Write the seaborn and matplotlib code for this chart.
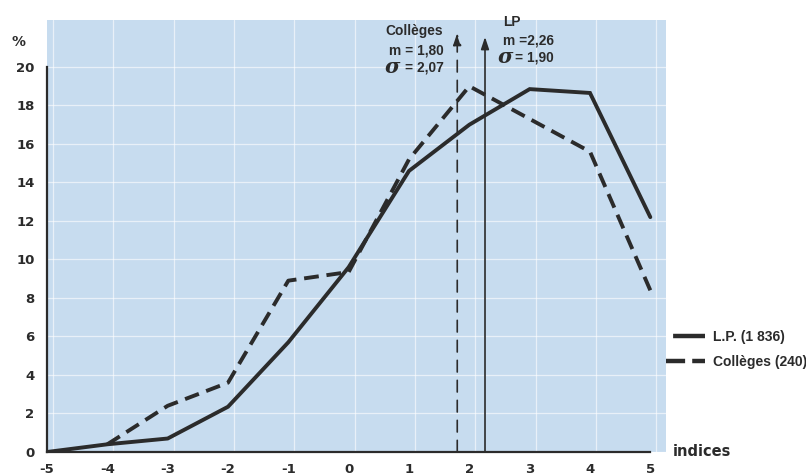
import numpy as np
import pandas as pd
import matplotlib
matplotlib.use("Agg")
import matplotlib.pyplot as plt
import seaborn as sns
from matplotlib.lines import Line2D

# ---- data ----
indices = [-5, -4, -3, -2, -1, 0, 1, 2, 3, 4, 5]
lp_values = [0.0, 0.4, 0.7, 2.35, 5.7, 9.6, 14.6, 17.0, 18.85, 18.65, 12.2]
colleges_values = [np.nan, 0.4, 2.4, 3.6, 8.9, 9.35, 15.2, 19.0, 17.3, 15.6, 8.4]
y_ticks = [0, 2, 4, 6, 8, 10, 12, 14, 16, 18, 20]
lp_mean, lp_sigma = 2.26, 1.90
col_mean, col_sigma = 1.80, 2.07
lp_label = "L.P. (1 836)"
col_label = "Collèges (240)"

df = pd.DataFrame({"indice": indices, "LP": lp_values, "Colleges": colleges_values})

sns.set_theme(style="white")
plt.rcParams["font.family"] = ["DejaVu Sans"]

ink = "#2b2b2b"
bg = "#c7dcef"

fig = plt.figure(figsize=(8.06, 4.75), dpi=100)
fig.patch.set_facecolor("white")
ax = fig.add_axes([47 / 806, 23 / 475, (666 - 47) / 806, (455 - 23) / 475])
ax.set_facecolor(bg)

sns.lineplot(data=df, x="indice", y="LP", ax=ax, color=ink, linewidth=2.8,
             label=lp_label, solid_joinstyle="miter")
sns.lineplot(data=df.dropna(), x="indice", y="Colleges", ax=ax, color=ink,
             linewidth=2.8, label=col_label)
ax.lines[1].set_dashes((3.8, 2.0))

ax.set_xlim(-5, 5.26)
ax.set_ylim(0, 22.44)

# grid
for v in indices:
    ax.axvline(v + 0.1, color="white", lw=0.9, alpha=0.6, zorder=0)
for v in y_ticks:
    ax.axhline(v, color="white", lw=0.9, alpha=0.6, zorder=0)

# spines
for s in ["top", "right"]:
    ax.spines[s].set_visible(False)
ax.spines["left"].set_bounds(0, 20)
ax.spines["bottom"].set_bounds(-5, 5)
for s in ["left", "bottom"]:
    ax.spines[s].set_color(ink)
    ax.spines[s].set_linewidth(1.6)

ax.set_xticks(indices)
ax.set_xticklabels([str(v) for v in indices])
ax.set_yticks(y_ticks)
ax.set_yticklabels([str(v) for v in y_ticks])
ax.tick_params(axis="both", direction="out", length=5, width=1.2, color=ink,
               labelsize=9.5, labelcolor=ink, pad=3)
ax.tick_params(axis="y", length=6)
for lab in ax.get_xticklabels() + ax.get_yticklabels():
    lab.set_fontweight("bold")
ax.set_xlabel("")
ax.set_ylabel("")

# mean arrows
ax.annotate("", xy=(col_mean, 21.77), xytext=(col_mean, 0),
            arrowprops=dict(arrowstyle="-|>,head_length=0.6,head_width=0.2",
                            color=ink, lw=1.2, linestyle=(0, (7, 5)),
                            shrinkA=0, shrinkB=0))
ax.annotate("", xy=(lp_mean, 21.56), xytext=(lp_mean, 0),
            arrowprops=dict(arrowstyle="-|>,head_length=0.6,head_width=0.2",
                            color=ink, lw=1.2, shrinkA=0, shrinkB=0))

def fmt(v):
    return f"{v:.2f}".replace(".", ",")

afont = ["Liberation Sans", "DejaVu Sans"]
tkw = dict(color=ink, fontsize=9.9, fontweight="bold", family=afont)
skw = dict(color=ink, fontsize=15, fontweight="bold", fontstyle="italic",
           family=["DejaVu Serif"], ha="center", va="center")
ax.text(col_mean - 0.23, 21.87, "Collèges", ha="right", va="center", **tkw)
ax.text(col_mean - 0.23, 20.88, f"m = {fmt(col_mean)}", ha="right", va="center", **tkw)
ax.text(col_mean - 0.23, 19.95, f"= {fmt(col_sigma)}", ha="right", va="center", **tkw)
ax.text(col_mean - 1.08, 19.98, "σ", **skw)

ax.text(lp_mean + 0.3, 22.34, "LP", ha="left", va="center", **tkw)
ax.text(lp_mean + 0.3, 21.35, f"m ={fmt(lp_mean)}", ha="left", va="center", **tkw)
ax.text(lp_mean + 0.5, 20.47, f"= {fmt(lp_sigma)}", ha="left", va="center", **tkw)
ax.text(lp_mean + 0.33, 20.5, "σ", **skw)

fig.text(12 / 806, 1 - 42 / 475, "%", ha="left", va="center", color=ink,
         fontsize=10, fontweight="bold")
fig.text(673 / 806, 1 - 451 / 475, "indices", ha="left", va="center", color=ink,
         fontsize=10.5, fontweight="bold")

# legend
lw_h = 3.2
handles = [Line2D([], [], color=ink, lw=lw_h, dash_capstyle="butt",
                  linestyle=(7.2, (7.2, 1.6))),
           Line2D([], [], color=ink, lw=lw_h, dash_capstyle="butt",
                  linestyle=(0, (4.3, 1.6, 4.3, 1.6)))]
leg = ax.legend(handles, [lp_label, col_label], loc="center left",
                bbox_to_anchor=(666 / 806, 1 - 349.5 / 475),
                bbox_transform=fig.transFigure, frameon=False,
                handlelength=2.8, handletextpad=0.55, labelspacing=0.8,
                borderaxespad=0, borderpad=0,
                prop={"family": afont, "weight": "bold", "size": 10})
for t in leg.get_texts():
    t.set_color(ink)

fig.savefig("out.png", dpi=100)
